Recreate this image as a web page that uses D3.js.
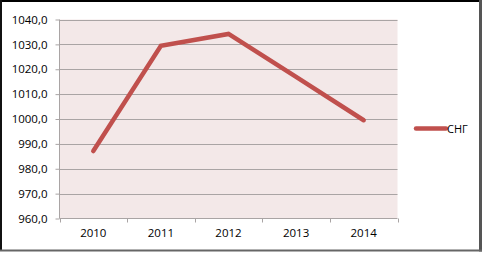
<!DOCTYPE html>
<html>
<head>
<meta charset="utf-8">
<script src="https://cdn.jsdelivr.net/npm/d3@7"></script>
<style>
  html, body { margin: 0; padding: 0; background: #fff; }
  svg { display: block; }
  text { font-family: "Open Sans", "Liberation Sans", sans-serif; fill: #000; }
</style>
</head>
<body>
<div id="chart"></div>
<script>
(function(){
    // data
    var years      = ['2010', '2011', '2012', '2013', '2014'];
    var sngValues  = [987.1, 1029.4, 1034.2, 1016.9, 999.5];
    var yTicks     = [960, 970, 980, 990, 1000, 1010, 1020, 1030, 1040];
    var seriesName = 'СНГ';

    var WIDTH   = 483,
        HEIGHT  = 253,
        PLOT_L  = 59.5,
        PLOT_R  = 397.5,
        PLOT_T  = 19.5,
        PLOT_B  = 218.5,
        LINE_COLOR = '#C0504D',
        GRID_COLOR = '#A9A4A4',
        BG_COLOR   = '#F3E8E8';

    var svg = d3.select('#chart').append('svg')
        .attr('width', WIDTH)
        .attr('height', HEIGHT);

    // frame with shadow edges
    svg.append('rect').attr('x', 0).attr('y', 0).attr('width', WIDTH).attr('height', HEIGHT).attr('fill', '#fff');
    svg.append('line').attr('x1', 0).attr('x2', 481).attr('y1', 1).attr('y2', 1).attr('stroke', '#000').attr('stroke-width', 2);
    svg.append('line').attr('x1', 1).attr('x2', 1).attr('y1', 0).attr('y2', 251).attr('stroke', '#111').attr('stroke-width', 2);
    svg.append('line').attr('x1', 480.5).attr('x2', 480.5).attr('y1', 0).attr('y2', 251.5).attr('stroke', '#555').attr('stroke-width', 3);
    svg.append('line').attr('x1', 0).attr('x2', 482).attr('y1', 250.5).attr('y2', 250.5).attr('stroke', '#666').attr('stroke-width', 2);

    var x = d3.scaleBand().domain(years).range([PLOT_L, PLOT_R]);
    var y = d3.scaleLinear().domain([960, 1040]).range([PLOT_B, PLOT_T]);

    // plot background
    svg.append('rect')
        .attr('x', PLOT_L).attr('y', PLOT_T)
        .attr('width', PLOT_R - PLOT_L).attr('height', PLOT_B - PLOT_T)
        .attr('fill', BG_COLOR);

    // gridlines
    svg.append('g').selectAll('line')
        .data(yTicks.filter(function(d){ return d !== 960; }))
        .enter().append('line')
        .attr('x1', PLOT_L).attr('x2', PLOT_R)
        .attr('y1', function(d){ return Math.round(y(d)) + 0.5; })
        .attr('y2', function(d){ return Math.round(y(d)) + 0.5; })
        .attr('stroke', GRID_COLOR).attr('stroke-width', 1);

    // y axis
    var yAxis = d3.axisLeft(y)
        .tickValues(yTicks)
        .tickSize(4)
        .tickPadding(8)
        .tickFormat(function(d){ return d3.format('.1f')(d).replace('.', ','); });
    var gy = svg.append('g')
        .attr('transform', 'translate(' + PLOT_L + ',0)')
        .call(yAxis);
    gy.select('.domain').attr('stroke', GRID_COLOR).attr('d', 'M0,' + PLOT_T + 'V' + PLOT_B);
    gy.selectAll('.tick line').attr('stroke', GRID_COLOR);
    gy.selectAll('.tick text').attr('font-size', '11.5px').attr('fill', '#000')
        .style('font-family', '"Open Sans", sans-serif');

    // x axis
    var xAxis = d3.axisBottom(x).tickSize(0).tickPadding(10);
    var gx = svg.append('g')
        .attr('transform', 'translate(0,' + PLOT_B + ')')
        .call(xAxis);
    gx.select('.domain').attr('stroke', GRID_COLOR).attr('d', 'M' + PLOT_L + ',0H' + PLOT_R);
    gx.selectAll('.tick text').attr('font-size', '11.5px').attr('fill', '#000')
        .style('font-family', '"Open Sans", sans-serif');
    // category boundary ticks
    svg.append('g').selectAll('line')
        .data(years.concat(['end']))
        .enter().append('line')
        .attr('x1', function(d, i){ return Math.round(PLOT_L + i * x.step()) + 0.5; })
        .attr('x2', function(d, i){ return Math.round(PLOT_L + i * x.step()) + 0.5; })
        .attr('y1', PLOT_B).attr('y2', PLOT_B + 4)
        .attr('stroke', GRID_COLOR);

    // series line
    var line = d3.line()
        .x(function(d, i){ return x(years[i]) + x.bandwidth() / 2; })
        .y(function(d){ return y(d); });
    svg.append('path')
        .datum(sngValues)
        .attr('d', line)
        .attr('fill', 'none')
        .attr('stroke', LINE_COLOR)
        .attr('stroke-width', 4.5)
        .attr('stroke-linejoin', 'miter')
        .attr('stroke-linecap', 'round');

    // legend
    var lg = svg.append('g').attr('transform', 'translate(416,128.5)');
    lg.append('line').attr('x1', 0).attr('x2', 30).attr('y1', 0).attr('y2', 0)
        .attr('stroke', LINE_COLOR).attr('stroke-width', 4.5).attr('stroke-linecap', 'round');
    lg.append('text').attr('x', 31).attr('y', 4)
        .attr('font-size', '11px')
        .text(seriesName);
})();
</script>
</body>
</html>
